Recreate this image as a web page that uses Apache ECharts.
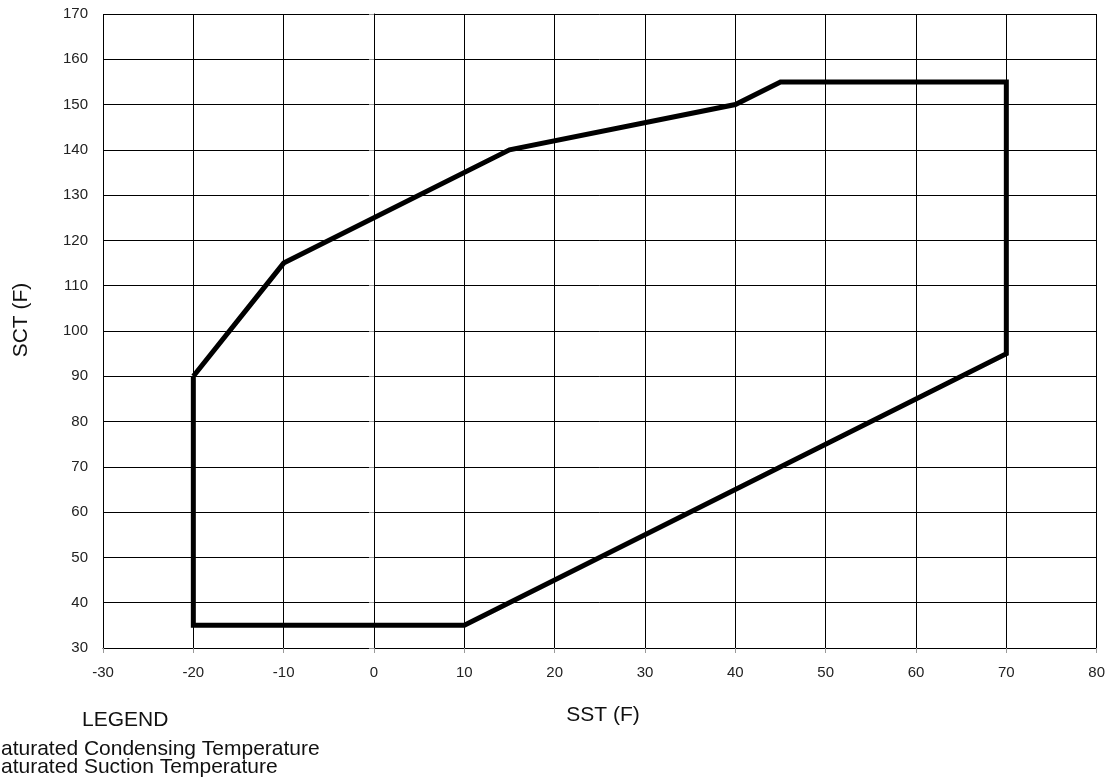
<!DOCTYPE html>
<html>
<head>
<meta charset="utf-8">
<script src="https://cdn.jsdelivr.net/npm/echarts@6/dist/echarts.min.js"></script>
<style>
  html, body { margin: 0; padding: 0; background: #fff; }
  #box { width: 1108px; height: 780px; }
</style>
</head>
<body>
<div id="box"></div>
<script>
// operating envelope, SST (x) vs SCT (y)
var sst = [-20, -10, 15, 40, 45, 70, 70, 10, -20, -20]
var sct = [90, 115, 140, 150, 155, 155, 95, 35, 35, 90]
var legendLines = ['Saturated Condensing Temperature', 'Saturated Suction Temperature']

var Chart = echarts.init(document.getElementById('box'))
var font = 'Liberation Sans, Arial, sans-serif'

function label(text, x, y, size, rot, align) {
    return {
        type: 'text', x: x, y: y, rotation: rot || 0,
        style: { text: text, fontFamily: font, fontSize: size, fill: '#111', align: align || 'left', verticalAlign: 'middle' }
    }
}

var option = {
    animation: false,
    backgroundColor: '#fff',
    grid: { left: 103, right: 9, top: 14, bottom: 132 },
    xAxis: {
        type: 'value',
        min: -30, max: 80, interval: 10,
        axisLine: { show: true, lineStyle: { color: '#000', width: 1 } },
        axisTick: { show: true, length: 5, lineStyle: { color: '#999' } },
        axisLabel: { fontFamily: font, fontSize: 15, color: '#222', margin: 17 },
        splitLine: { show: true, lineStyle: { color: '#000', width: 1 } }
    },
    yAxis: {
        type: 'value',
        min: 30, max: 170, interval: 10,
        axisLine: { show: true, lineStyle: { color: '#000', width: 1 } },
        axisTick: { show: true, length: 5, lineStyle: { color: '#999' } },
        axisLabel: { fontFamily: font, fontSize: 15, color: '#222', margin: 15 },
        splitLine: { show: true, lineStyle: { color: '#000', width: 1 } }
    },
    graphic: [
        label('SST (F)', 603, 715, 21, 0, 'center'),
        label('SCT (F)', 21, 320, 21, Math.PI / 2, 'center'),
        label('LEGEND', 82, 720, 21),
        label(legendLines[0], -13, 749, 21),
        label(legendLines[1], -13, 767, 21)
    ],
    series: [{
        type: 'line',
        data: sst.map(function (x, i) { return [x, sct[i]] }),
        symbol: 'none',
        lineStyle: { color: '#000', width: 5, join: 'miter' }
    }]
}
Chart.setOption(option)
</script>
</body>
</html>
